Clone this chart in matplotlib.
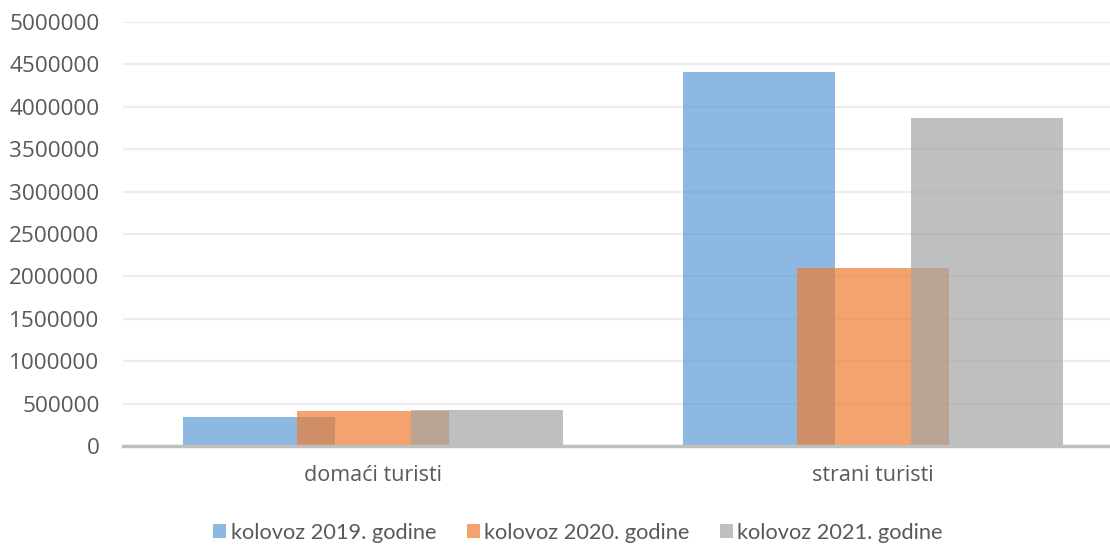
import numpy as np
import matplotlib
matplotlib.use("Agg")
import matplotlib.pyplot as plt

# =========================================================
# DATA
# =========================================================

categories = ["domaći turisti", "strani turisti"]
series_names = ["kolovoz 2019. godine", "kolovoz 2020. godine", "kolovoz 2021. godine"]
values_2019 = [340000, 4405000]
values_2020 = [412000, 2100000]
values_2021 = [424000, 3870000]
y_ticks = list(range(0, 5000001, 500000))

colors = ["#5B9BD5", "#ED7D31", "#A5A5A5"]

# =========================================================
# PLOT
# =========================================================

plt.rcParams["font.family"] = ["Open Sans", "DejaVu Sans"]
text_color = "#595959"

fig = plt.figure(figsize=(11.10, 5.45), dpi=100)
ax = fig.add_axes([123 / 1110, 99 / 545, 1000 / 1110, 424 / 545])

x = np.arange(len(categories))
width = 0.304
step = 0.228

for i, (vals, name) in enumerate(zip([values_2019, values_2020, values_2021], series_names)):
    ax.bar(x + (i - 1) * step, vals, width=width, color=colors[i], alpha=0.7,
           label=name, zorder=3)

ax.set_xlim(-0.5, 1.5)
ax.set_ylim(0, 5000000)
ax.set_yticks(y_ticks)
ax.set_yticklabels([str(t) for t in y_ticks])
ax.set_xticks(x)
ax.set_xticklabels(categories)

ax.grid(True, axis="y", color="#EDEDED", linewidth=1.6, zorder=0)
ax.grid(False, axis="x")
for side in ["top", "right", "left"]:
    ax.spines[side].set_visible(False)
ax.spines["bottom"].set_color("#BFBFBF")
ax.spines["bottom"].set_linewidth(2.5)
ax.spines["bottom"].set_zorder(4)

ax.tick_params(axis="y", length=0, pad=17, labelsize=16.2, labelcolor=text_color)
ax.tick_params(axis="x", length=0, pad=14, labelsize=15.5, labelcolor=text_color)

leg = fig.legend(loc="center", bbox_to_anchor=(578 / 1110, 1 - 533 / 545), ncol=3,
                 frameon=False, handlelength=0.6, handleheight=0.6, handletextpad=0.2,
                 columnspacing=1.4, prop={"family": "Lato", "size": 15.7})
for t in leg.get_texts():
    t.set_color(text_color)

fig.savefig("out.png", dpi=100)
